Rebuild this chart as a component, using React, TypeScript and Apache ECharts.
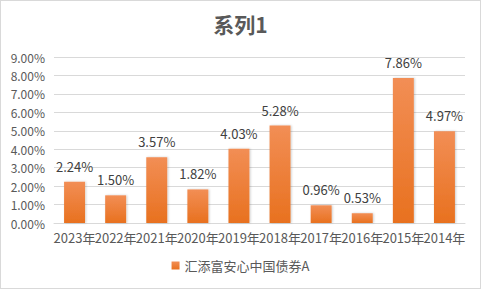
import React, { useEffect, useRef } from "react";
import * as echarts from "echarts";

const categories = ["2023年", "2022年", "2021年", "2020年", "2019年", "2018年", "2017年", "2016年", "2015年", "2014年"];
const values = [2.24, 1.5, 3.57, 1.82, 4.03, 5.28, 0.96, 0.53, 7.86, 4.97];
const seriesName = "汇添富安心中国债券A";
const title = "系列1";

export default function App() {
  const ref = useRef<HTMLDivElement>(null);
  useEffect(() => {
    const chart = echarts.init(ref.current!, null, { renderer: "svg" });
    const font = "Microsoft YaHei, 'Noto Sans CJK SC', sans-serif";
    chart.setOption({
      animation: false,
      backgroundColor: "#ffffff",
      title: {
        text: title,
        left: "center",
        top: 7,
        textStyle: { fontSize: 21, fontWeight: "bold", color: "#595959", fontFamily: font },
      },
      grid: { left: 53, right: 15, top: 56, bottom: 65 },
      legend: {
        bottom: 11,
        left: "center",
        itemWidth: 8,
        itemHeight: 8,
        icon: "rect",
        itemGap: 4,
        textStyle: { fontSize: 13, color: "#595959", fontFamily: font },
        data: [seriesName],
      },
      xAxis: {
        type: "category",
        data: categories,
        axisTick: { show: false },
        axisLine: { lineStyle: { color: "#d9d9d9" } },
        axisLabel: { color: "#595959", fontSize: 13, margin: 8, interval: 0, fontFamily: font },
      },
      yAxis: {
        type: "value",
        min: 0,
        max: 9,
        interval: 1,
        axisLabel: {
          color: "#595959",
          fontSize: 12,
          margin: 9,
          fontFamily: font,
          formatter: (v: number) => v.toFixed(2) + "%",
        },
        splitLine: { lineStyle: { color: "#d9d9d9" } },
        axisLine: { show: false },
        axisTick: { show: false },
      },
      series: [
        {
          name: seriesName,
          type: "bar",
          data: values,
          barWidth: "51%",
          itemStyle: {
            color: new echarts.graphic.LinearGradient(0, 0, 0, 1, [
              { offset: 0, color: "#f28e55" },
              { offset: 1, color: "#e8711f" },
            ]),
            shadowColor: "rgba(0,0,0,0.2)",
            shadowBlur: 2,
            shadowOffsetX: 1,
            shadowOffsetY: 0,
          },
          label: {
            show: true,
            position: "top",
            distance: 9,
            color: "#404040",
            fontSize: 13,
            fontFamily: font,
            formatter: (p: any) => p.value.toFixed(2) + "%",
          },
        },
      ],
    });
    return () => chart.dispose();
  }, []);
  return (
    <div
      ref={ref}
      style={{ width: 481, height: 289, position: "absolute", left: 0, top: 0, boxSizing: "border-box", border: "1px solid #d9d9d9" }}
    />
  );
}
